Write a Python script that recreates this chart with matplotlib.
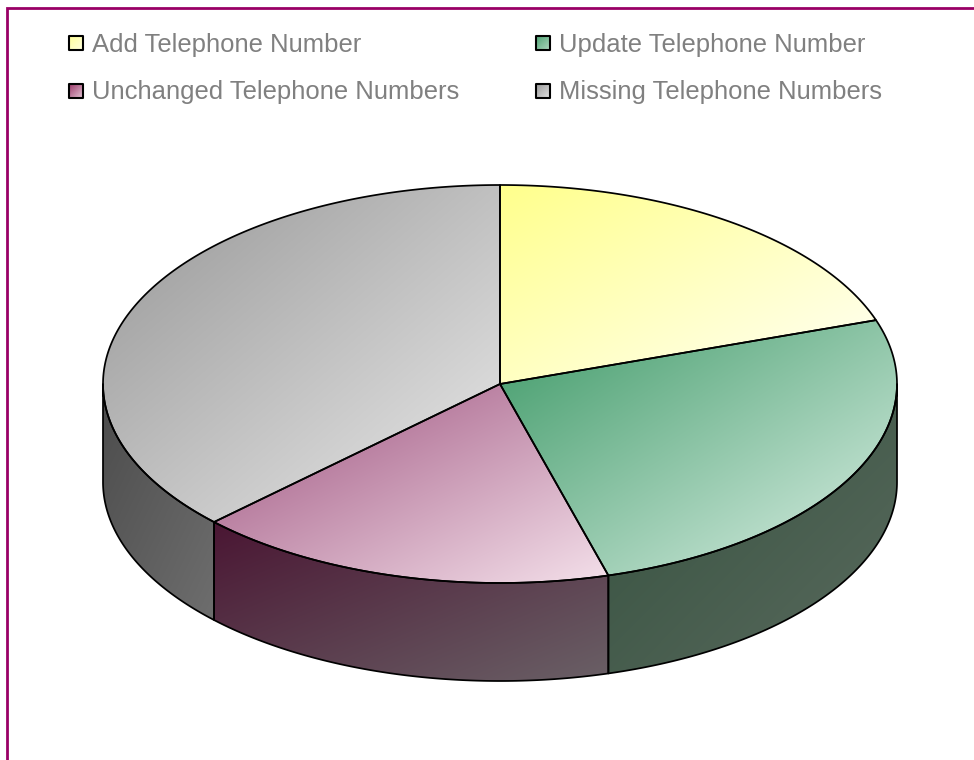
import numpy as np
import matplotlib
matplotlib.use('Agg')
import matplotlib.pyplot as plt
from matplotlib.colors import to_rgb
from matplotlib.patches import Polygon

plt.rcParams['font.family'] = ['Liberation Sans', 'DejaVu Sans']

# data (percent share of each slice)
labels = ['Add Telephone Number', 'Update Telephone Number',
          'Unchanged Telephone Numbers', 'Missing Telephone Numbers']
values = [19.8, 25.8, 17.2, 37.2]

# top face gradient, start and end colour
top_start = ['#FFFF8C', '#3F9A68', '#9C4F7C', '#969696']
top_end = ['#FFFFF8', '#DCF0E6', '#F4E0EA', '#EAEAEA']
# side wall gradient
side_start = ['#FFFF8C', '#33503D', '#4A1633', '#4C4C4C']
side_end = ['#FFFFF0', '#5A6A5E', '#6A6066', '#6E6E6E']
legend_start = ['#FFFF99', '#4DA373', '#993366', '#969696']
legend_end = ['#FFFFE0', '#B0D8C0', '#E0C0D0', '#DEDEDE']

cx, cy = 500, 384
rx, ry = 397, 199
depth = 98
border = '#990066'

fig = plt.figure(figsize=(9.74, 7.6), dpi=100)
ax = fig.add_axes([0, 0, 1, 1])


def gradient_fill(verts, c0, c1, lw=1.25):
    verts = np.asarray(verts)
    x0, y0 = verts.min(axis=0)
    x1, y1 = verts.max(axis=0)
    xx, yy = np.meshgrid(np.linspace(0, 1, 200), np.linspace(0, 1, 200))
    t = ((xx + yy) / 2)[..., None]
    img = np.array(to_rgb(c0)) * (1 - t) + np.array(to_rgb(c1)) * t
    im = ax.imshow(img, extent=(x0, x1, y1, y0), aspect='auto', zorder=2,
                   interpolation='bilinear')
    patch = Polygon(verts, closed=True, facecolor='none', edgecolor='black',
                    linewidth=lw, joinstyle='round', zorder=3)
    ax.add_patch(patch)
    im.set_clip_path(patch)


def rim(angles):
    return np.column_stack([cx + rx * np.sin(angles), cy - ry * np.cos(angles)])


# angles run clockwise from 12 o'clock
edges = np.concatenate([[0], np.cumsum(values)]) / sum(values) * 2 * np.pi

# side walls first, only the part on the front half shows
for i in [3, 2, 1, 0]:
    a0 = max(edges[i], np.pi / 2)
    a1 = min(edges[i + 1], 3 * np.pi / 2)
    if a1 <= a0:
        continue
    upper = rim(np.linspace(a0, a1, 120))
    lower = upper[::-1] + [0, depth]
    gradient_fill(np.vstack([upper, lower]), side_start[i], side_end[i])

for i in range(len(values)):
    arc = rim(np.linspace(edges[i], edges[i + 1], 200))
    gradient_fill(np.vstack([[cx, cy], arc]), top_start[i], top_end[i])

# legend, two rows of two
legend_x = [69, 536]
legend_y = [43, 90.5]
for i, name in enumerate(labels):
    x = legend_x[i % 2]
    y = legend_y[i // 2]
    box = [[x, y - 7], [x + 14, y - 7], [x + 14, y + 7], [x, y + 7]]
    gradient_fill(box, legend_start[i], legend_end[i], lw=1.5)
    ax.text(x + 23, y + 9, name, color='#808080', fontsize=18.45,
            va='baseline', ha='left')

# chart frame, top and left only
ax.plot([6.5, 6.5, 974], [760, 7.5, 7.5], color=border, linewidth=2.0,
        solid_joinstyle='miter', zorder=4)

ax.set_xlim(0, 974)
ax.set_ylim(760, 0)
ax.axis('off')
fig.savefig('out.png', dpi=100)
